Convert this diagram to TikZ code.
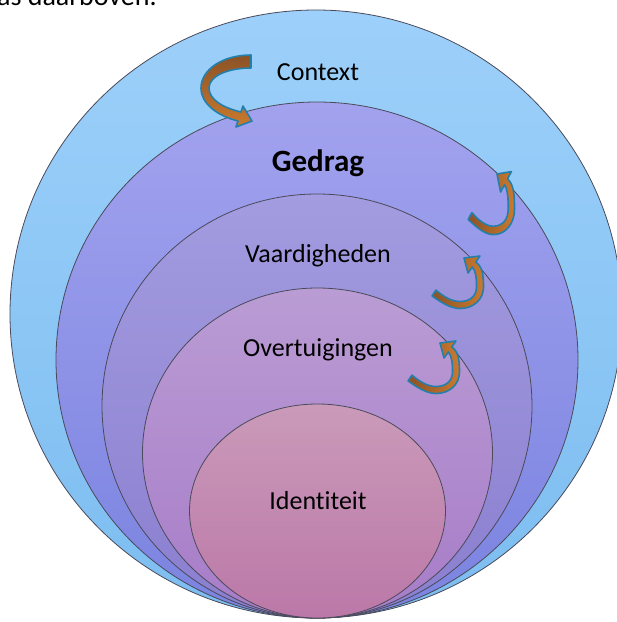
\documentclass[tikz,border=0pt]{standalone}
\usepackage{fontspec}
\setmainfont{Carlito}[Ligatures={NoCommon,NoContextual}]
\definecolor{ringline}{HTML}{4A4A5A}
\definecolor{cAt}{HTML}{9DD0FA}
\definecolor{cAb}{HTML}{7CBDF0}
\definecolor{cBt}{HTML}{A2A2EE}
\definecolor{cBb}{HTML}{7A83E0}
\definecolor{cCt}{HTML}{A39CE0}
\definecolor{cCb}{HTML}{8A7ECF}
\definecolor{cDt}{HTML}{BA9CD4}
\definecolor{cDb}{HTML}{A77CC8}
\definecolor{cEt}{HTML}{CA9AB9}
\definecolor{cEb}{HTML}{BB78A8}
\definecolor{arrdark}{HTML}{8C5226}
\definecolor{arrlight}{HTML}{CA7A2E}
\definecolor{arrline}{HTML}{2380AD}
\begin{document}
\begin{tikzpicture}[x=1pt,y=-1pt,
  ring/.style={draw=ringline, line width=0.8pt},
  lbl/.style={anchor=base, inner sep=0pt, font=\fontsize{26}{30}\selectfont},
  arrbox/.style={draw=arrline, line width=1.6pt, line join=round}]
\useasboundingbox (0,0) rectangle (617,622);
\clip (0,0) rectangle (617,622);
\node[anchor=base west, inner sep=0pt, font=\fontsize{28}{32}\selectfont] (toptext) at (-3,5) {as daarboven.};
% rings
\path[ring, top color=cAt, bottom color=cAb] (316,314) ellipse [x radius=306, y radius=304];
\path[ring, top color=cBt, bottom color=cBb] (317,360) ellipse [x radius=261, y radius=258];
\path[ring, top color=cCt, bottom color=cCb] (317,406) ellipse [x radius=215, y radius=212];
\path[ring, top color=cDt, bottom color=cDb] (317.5,453) ellipse [x radius=175, y radius=165];
\path[ring, top color=cEt, bottom color=cEb] (317.5,511) ellipse [x radius=128, y radius=107];
% labels
\node[lbl] (context) at (318,80) {Context};
\node[lbl, font=\bfseries\fontsize{31}{34}\selectfont] (gedrag) at (318,171.5) {Gedrag};
\node[lbl] (vaard) at (318,262) {Vaardigheden};
\node[lbl] (overt) at (318,356) {Overtuigingen};
\node[lbl] (ident) at (318,509) {Identiteit};
% arrow 1 (C-shaped, top left)
\path[arrbox, top color=arrdark, bottom color=arrlight]
  (251,55) -- (251,68) .. controls (228,68) and (209,76) .. (209,88)
  .. controls (209,100) and (224,108) .. (241,112) -- (243,106) -- (252,121)
  -- (236,127) -- (238,121) .. controls (218,116) and (201,104) .. (201,88)
  .. controls (201,70) and (222,55) .. (251,55) -- cycle;
% arrows 2-4 (hook up)
\foreach \px/\py/\sx/\sy in {470/216/0.9/1.2, 434/293/1/1, 410/378/1/1}{
\begin{scope}[shift={(\px,\py)}, xscale=\sx, yscale=\sy]
\path[arrbox, left color=arrdark, right color=arrlight]
  (-2,2.9) .. controls (8,10) and (17,15.5) .. (26,15.5)
  .. controls (40,15.5) and (49.5,6) .. (49.5,-6)
  .. controls (49.5,-18) and (48.4,-26.6) .. (41.7,-31)
  -- (46,-37) -- (30,-35) -- (34,-20) -- (38.3,-26)
  .. controls (42,-22) and (42.5,-14) .. (42.5,-6)
  .. controls (42.5,3) and (36,8.5) .. (26,8.5)
  .. controls (18,8.5) and (10,4) .. (2,-2.9) -- cycle;
\end{scope}}
\end{tikzpicture}
\end{document}
